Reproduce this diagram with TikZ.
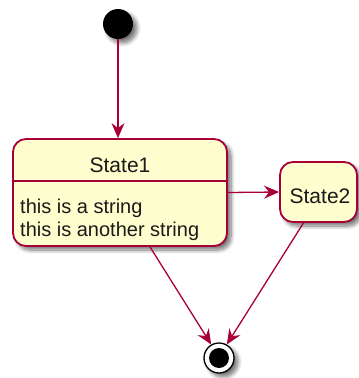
\documentclass[tikz,border=0pt]{standalone}
\usepackage{fontspec}
\setmainfont{Liberation Sans}
\usetikzlibrary{shadows.blur,arrows.meta,calc}
\definecolor{pbord}{HTML}{A80036}
\definecolor{pfill}{HTML}{FEFECE}
\definecolor{ptext}{HTML}{1A1A1A}
\begin{document}
\begin{tikzpicture}[x=1pt,y=-1pt,
  shad/.style={blur shadow={shadow xshift=4pt,shadow yshift=-4pt,shadow blur steps=8,shadow blur radius=4pt,shadow opacity=55}},
  state/.style={draw=pbord,fill=pfill,line width=1.8pt,rounded corners=13pt,shad,inner sep=0pt},
  conn/.style={draw=pbord,line width=1.3pt,-{Stealth[length=15pt,width=13pt,inset=5pt]}},
  ttl/.style={font=\fontsize{21}{24}\selectfont,text=ptext,inner sep=0pt,anchor=base},
  attr/.style={font=\fontsize{20}{23}\selectfont,text=ptext,inner sep=0pt,anchor=base west},
]
\useasboundingbox (0,0) rectangle (359,378);
\node[circle,fill=black,minimum size=30pt,inner sep=0pt,shad] (start) at (118,24) {};
\node[state,minimum width=214pt,minimum height=107pt] (s1) at (120,192.5) {};
\draw[draw=pbord,line width=1.6pt] ($(s1.north west)+(0,43)$) -- ($(s1.north east)+(0,43)$);
\node[ttl] (t1) at (120,172) {State1};
\node[attr] (a1) at (20,213) {this is a string};
\node[attr] (a2) at (20,236) {this is another string};
\node[state,minimum width=77pt,minimum height=60pt] (s2) at (318.5,192) {};
\node[ttl] (t2) at (320,203) {State2};
\node[circle,draw=black,line width=1.3pt,fill=white,minimum size=30pt,inner sep=0pt,shad,
  path picture={\fill[black] (path picture bounding box.center) circle (10pt);}] (end) at (219,358) {};
\draw[conn] (start) -- (start |- s1.north);
\draw[conn] (s1.east) -- (s2.west);
\draw[conn] ([xshift=30pt]s1.south) -- (end.120);
\draw[conn] ([xshift=-15pt]s2.south) -- (end.60);
\end{tikzpicture}
\end{document}
